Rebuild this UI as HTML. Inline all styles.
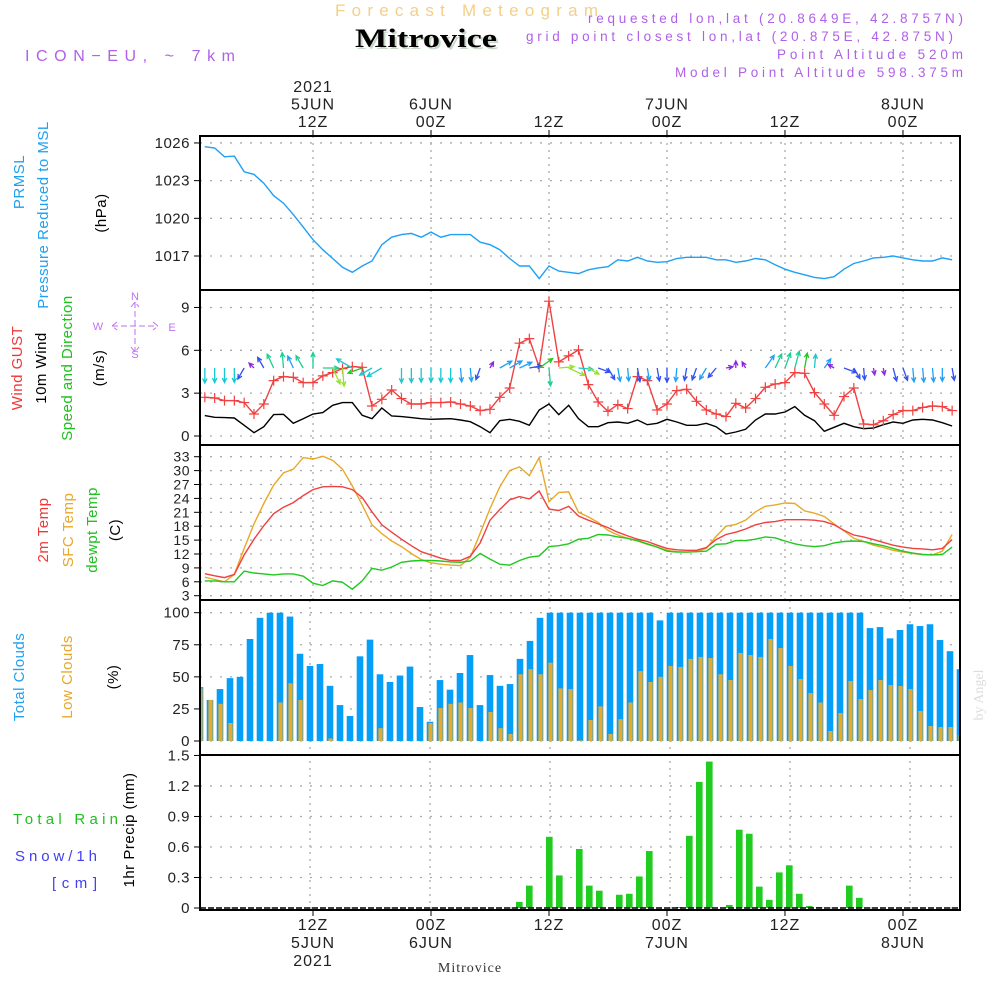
<!DOCTYPE html>
<html><head><meta charset="utf-8"><style>
html,body{margin:0;padding:0;background:#fff;}
svg{display:block;font-family:"Liberation Sans",sans-serif;}
</style></head><body>
<svg id="c" width="1000" height="1000" viewBox="0 0 1000 1000" xmlns="http://www.w3.org/2000/svg">
<defs>
<clipPath id="cp1"><rect x="201" y="137" width="758" height="152"/></clipPath>
<clipPath id="cp2"><rect x="201" y="291" width="758" height="153"/></clipPath>
<clipPath id="cp3"><rect x="201" y="446" width="758" height="153"/></clipPath>
<clipPath id="cp4"><rect x="201" y="601" width="758" height="153"/></clipPath>
<clipPath id="cp5"><rect x="201" y="756" width="758" height="153"/></clipPath>
</defs>
<text x="335" y="16" font-size="17" fill="#f3cf8a" textLength="263" lengthAdjust="spacing">Forecast Meteogram</text>
<text x="357" y="49" font-size="26" font-weight="bold" font-family="Liberation Serif, serif" fill="#c8d8c8" textLength="142" lengthAdjust="spacingAndGlyphs">Mitrovice</text>
<text x="355" y="47" font-size="26" font-weight="bold" font-family="Liberation Serif, serif" fill="#000" textLength="142" lengthAdjust="spacingAndGlyphs">Mitrovice</text>
<text x="25" y="61" font-size="16" fill="#b060e8" textLength="210" lengthAdjust="spacing">ICON−EU, ~ 7km</text>
<g font-size="13.5" fill="#b060e8">
<text x="588" y="23" textLength="375" lengthAdjust="spacing">requested lon,lat (20.8649E, 42.8757N)</text>
<text x="526" y="41" textLength="427" lengthAdjust="spacing">grid point closest lon,lat (20.875E, 42.875N)</text>
<text x="777" y="59" textLength="186" lengthAdjust="spacing">Point Altitude 520m</text>
<text x="675" y="77" textLength="288" lengthAdjust="spacing">Model Point Altitude 598.375m</text>
</g>
<g id="grid"></g>
<g id="marks"></g>
<g id="frames" fill="none" stroke="#000" stroke-width="2">
<rect x="200" y="136" width="760" height="774"/>
<line x1="200" y1="290" x2="960" y2="290"/>
<line x1="200" y1="445" x2="960" y2="445"/>
<line x1="200" y1="600" x2="960" y2="600"/>
<line x1="200" y1="755" x2="960" y2="755"/>
</g>
<g id="labels"></g>
<g font-size="15" text-anchor="middle" letter-spacing="0.5">
<text transform="translate(24,182) rotate(-90)" fill="#20a0f0">PRMSL</text>
<text transform="translate(48,215) rotate(-90)" fill="#20a0f0">Pressure Reduced to MSL</text>
<text transform="translate(106,213) rotate(-90)" fill="#000">(hPa)</text>
<text transform="translate(22,368) rotate(-90)" fill="#f03838">Wind GUST</text>
<text transform="translate(46,368) rotate(-90)" fill="#000">10m Wind</text>
<text transform="translate(72,368) rotate(-90)" fill="#20c020">Speed and Direction</text>
<text transform="translate(104,368) rotate(-90)" fill="#000">(m/s)</text>
<text transform="translate(48,530) rotate(-90)" fill="#f03838">2m Temp</text>
<text transform="translate(73,530) rotate(-90)" fill="#e8a828">SFC Temp</text>
<text transform="translate(97,530) rotate(-90)" fill="#20c020">dewpt Temp</text>
<text transform="translate(120,530) rotate(-90)" fill="#000">(C)</text>
<text transform="translate(24,677) rotate(-90)" fill="#20a0f0">Total Clouds</text>
<text transform="translate(72,677) rotate(-90)" fill="#e8a828">Low Clouds</text>
<text transform="translate(118,677) rotate(-90)" fill="#000">(%)</text>
<text transform="translate(134,830) rotate(-90)" fill="#000">1hr Precip (mm)</text>
</g>
<g font-size="15">
<text x="13" y="824" fill="#20c020" textLength="105" lengthAdjust="spacing">Total  Rain</text>
<text x="15" y="861" fill="#4040f0" textLength="82" lengthAdjust="spacing">Snow/1h</text>
<text x="52" y="888" fill="#4040f0" textLength="45" lengthAdjust="spacing">[cm]</text>
</g>
<g fill="#c070f0" stroke="#c070f0" font-size="11" text-anchor="middle">
<text x="135" y="300" stroke="none">N</text>
<text x="135" y="358" stroke="none">S</text>
<text x="98" y="330" stroke="none">W</text>
<text x="172" y="331" stroke="none">E</text>
<path d="M135 302 V352 M112 326 H158 M131 307 L135 302 L139 307 M131 347 L135 352 L139 347 M117 322 L112 326 L117 330 M153 322 L158 326 L153 330" fill="none" stroke-width="1" stroke-dasharray="6 3"/>
</g>
<text x="470" y="972" text-anchor="middle" font-size="14" font-family="Liberation Serif, serif" fill="#333" letter-spacing="1">Mitrovice</text>
<text transform="translate(983,695) rotate(-90)" text-anchor="middle" font-size="14" font-family="Liberation Serif, serif" fill="#ddd">by Angel</text>
</svg>
<script>
const hours = [];
for (let h = 1; h <= 77; h++) hours.push(h);
const pressure = [1025.7,1025.6,1024.9,1024.95,1023.7,1023.5,1022.8,1021.8,1021.2,1020.3,1019.3,1018.3,1017.5,1016.8,1016.1,1015.7,1016.2,1016.6,1017.9,1018.5,1018.7,1018.8,1018.5,1018.9,1018.5,1018.7,1018.7,1018.7,1018.1,1017.9,1017.5,1016.8,1016.2,1016.2,1015.2,1016.2,1015.8,1015.7,1015.6,1015.9,1016.05,1016.15,1016.7,1016.6,1016.9,1016.6,1016.5,1016.55,1016.8,1016.9,1016.9,1016.9,1016.7,1016.7,1016.5,1016.6,1016.8,1016.7,1016.3,1015.95,1015.7,1015.5,1015.3,1015.2,1015.35,1015.95,1016.4,1016.6,1016.85,1016.9,1017.0,1016.85,1016.7,1016.6,1016.6,1016.85,1016.7];
const wind10m = [1.43,1.31,1.29,1.26,0.75,0.23,0.65,1.5,1.52,0.89,1.21,1.54,1.64,2.15,2.34,2.34,1.45,1.21,1.96,1.4,1.36,1.29,1.21,1.17,1.19,1.21,1.12,1.0,0.65,0.23,1.07,1.17,1.03,0.75,1.82,2.24,1.5,2.15,1.21,0.65,0.65,0.93,0.98,0.89,1.12,0.79,0.89,1.17,0.98,0.75,0.75,0.89,0.65,0.14,0.28,0.47,1.12,1.54,1.54,1.68,2.06,1.45,1.07,0.33,0.61,0.89,0.65,0.51,0.56,0.79,0.98,0.89,1.12,1.17,1.12,0.93,0.7];
const windGust = [2.71,2.66,2.48,2.48,2.34,1.54,2.24,3.88,4.16,4.11,3.74,3.74,4.21,4.44,4.72,4.86,4.81,2.1,2.57,3.22,2.62,2.24,2.24,2.34,2.34,2.38,2.24,2.1,1.78,1.87,2.71,3.36,6.5,6.82,4.81,9.44,5.19,5.61,6.03,3.6,2.38,1.73,2.2,1.92,4.16,3.88,1.82,2.24,3.18,3.27,2.43,1.82,1.54,1.36,2.29,1.96,2.62,3.41,3.64,3.74,4.44,4.39,3.04,2.24,1.45,2.76,3.36,0.84,0.79,1.07,1.5,1.78,1.78,2.0,2.1,2.06,1.78];
const windDir = [180,180,180,180,210,315,330,335,355,335,330,0,90,155,175,300,250,240,240,null,180,180,180,180,180,180,175,175,200,30,60,60,65,80,55,175,85,115,95,120,110,150,170,175,170,170,170,180,185,190,200,210,220,80,0,330,null,35,25,20,15,10,5,35,300,110,150,175,170,170,165,160,175,175,175,180,170];
const windColor = ["c","c","c","c","d","p","d","t","t","b","t","t","t","l","l","c","g","c","c","c","c","c","c","c","c","c","b","b","d","p","b","b","b","d","g","t","l","l","c","l","d","d","b","b","d","b","d","d","b","d","d","b","d","p","p","p","p","b","t","t","t","g","c","b","p","d","d","d","p","p","d","d","b","b","b","b","d"];
const temp2m = [7.75,7.3,6.9,7.6,11.8,15.2,18.1,20.7,22.1,23.1,24.6,25.9,26.5,26.6,26.5,25.9,24.2,21.1,18.3,16.7,15.2,13.8,12.5,11.8,11.1,10.6,10.6,11.5,14.4,19.3,21.6,23.7,24.4,23.9,25.6,21.7,21.4,22.3,20.2,19.3,18.5,17.7,16.7,15.9,15.2,14.7,13.9,13.2,12.9,12.8,12.8,13.4,15.1,16.2,16.7,17.4,18.3,18.8,19.0,19.4,19.4,19.4,19.3,19.0,18.3,17.1,16.1,15.7,15.1,14.5,13.9,13.5,13.2,13.1,12.9,13.2,15.1];
const tempSfc = [7.0,6.5,6.0,7.6,13.2,18.5,22.9,26.9,29.5,30.3,32.8,32.5,33.1,32.2,30.3,26.7,22.6,18.3,16.4,14.8,13.6,12.1,10.8,10.1,9.8,9.6,9.5,11.3,16.5,21.8,26.5,30.0,30.8,28.9,32.8,23.3,25.3,25.4,21.0,20.0,18.8,17.1,16.1,15.4,14.8,14.1,13.5,12.8,12.5,12.4,12.5,13.2,15.8,18.0,18.4,19.3,21.1,22.3,22.6,23.0,22.9,21.3,20.8,20.1,18.5,17.0,15.4,14.7,13.9,13.4,12.8,12.4,12.1,11.9,11.8,12.6,16.2];
const dewpoint = [6.2,6.2,6.0,6.0,8.3,7.9,7.7,7.5,7.7,7.7,7.2,5.7,5.2,6.2,5.9,4.4,6.2,8.9,8.5,9.2,10.2,10.5,10.6,10.6,10.5,10.3,10.2,10.5,12.1,10.9,9.8,9.6,10.6,11.3,11.6,13.6,13.8,14.2,15.2,15.4,16.2,16.1,15.7,15.4,14.9,14.2,13.5,12.6,12.4,12.4,12.5,12.6,14.1,14.2,14.9,14.9,15.2,15.7,15.5,14.8,14.2,13.8,13.6,13.8,14.4,14.7,14.8,14.7,14.2,13.8,13.2,12.6,12.2,11.9,11.8,11.9,13.5];
const totalClouds = [42,32,40.5,49,50,79.5,96,100,100,97,68,58.5,60,43,28,19.5,66,79,52,46,51,58,26.5,15,47.5,40,53,67,28,51.4,43,44.4,64,78,96,100,100,100,100,100,100,100,100,100,100,100,94,100,100,100,100,100,100,100,100,100,100,100,100,100,100,100,100,100,100,100,100,88,88.8,80,86.5,91,89.6,91,78.7,70,56];
const lowClouds = [41,32,29,14,0,0,0,0,30,45,32,0,0,2,0,0,0,0,10,0,0,0,0,14,25.7,29,30,25.7,0,22.6,10,5.5,52,56,52,61,41,40.5,0.5,16.4,27,5.5,17,30,54.5,46,50,58.5,57.7,64,65.5,64.7,52,47.5,68.6,67,65.5,79.5,72.5,58.5,48.3,37.4,30,7.8,21.8,46.8,32.7,39.7,47.5,43.6,42.9,40.5,23.4,11.7,10.9,10.9,4.7];
const precipHours = [33,34,36,37,39,40,41,43,44,45,46,49,50,51,52,54,55,56,57,58,59,60,61,62,63,66,67];
const precip = [0.06,0.22,0.70,0.32,0.58,0.22,0.17,0.13,0.14,0.31,0.56,0.01,0.71,1.24,1.44,0.03,0.77,0.73,0.21,0.08,0.35,0.42,0.14,0.02,0.01,0.22,0.10];
const pTicks = [1026,1023,1020,1017];
const wTicks = [9,6,3,0];
const tTicks = [33,30,27,24,21,18,15,12,9,6,3];
const cTicks = [100,75,50,25,0];
const rTicks = ["1.5","1.2","0.9","0.6","0.3","0"];
const timeTickHours = [12,24,36,48,60,72];
const topLabels = [["2021","5JUN","12Z"],["","6JUN","00Z"],["","","12Z"],["","7JUN","00Z"],["","","12Z"],["","8JUN","00Z"]];
const botLabels = [["12Z","5JUN","2021"],["00Z","6JUN",""],["12Z","",""],["00Z","7JUN",""],["12Z","",""],["00Z","8JUN",""]];

const X = h => 195 + 9.833 * h;
const XB = h => 190 + 10 * h;
const yP = p => 256 - (p - 1017) * 12.56;
const yW = v => 436 - v * 14.28;
const yT = t => 595.7 - (t - 3) * 4.633;
const yC = c => 741 - c * 1.283;
const yR = r => 908 - r * 101.7;

const NS = "http://www.w3.org/2000/svg";
function mk(tag, attrs, parent) {
  const e = document.createElementNS(NS, tag);
  for (const k in attrs) e.setAttribute(k, attrs[k]);
  parent.appendChild(e);
  return e;
}
const grid = document.getElementById("grid");
const marks = document.getElementById("marks");
const labels = document.getElementById("labels");

function hgrid(y) {
  const l = mk("line", {x1: 200, x2: 960, y1: y, y2: y, stroke: "#aaa", "stroke-width": 1.3, "stroke-dasharray": "2 8"}, grid);
  
  
}
pTicks.forEach(v => hgrid(yP(v)));
wTicks.forEach(v => hgrid(yW(v)));
tTicks.forEach(v => hgrid(yT(v)));
cTicks.forEach(v => hgrid(yC(v)));
rTicks.forEach(v => hgrid(yR(+v)));
timeTickHours.forEach(h => {
  const a = mk("line", {x1: X(h), x2: X(h), y1: 136, y2: 600, stroke: "#aaa", "stroke-width": 1.3, "stroke-dasharray": "2 5"}, grid);
  
  
  const b = mk("line", {x1: XB(h), x2: XB(h), y1: 600, y2: 910, stroke: "#aaa", "stroke-width": 1.3, "stroke-dasharray": "2 5"}, grid);
  
  
});

function ytick(txt, y, fs) {
  const t = mk("text", {x: 190, y: y + 5, "text-anchor": "end", "font-size": fs, fill: "#222", "letter-spacing": 0.5}, labels);
  t.textContent = txt;
  
  
  const m = mk("line", {x1: 194, x2: 200, y1: y, y2: y, stroke: "#000", "stroke-width": 1}, labels);
  
  
}
pTicks.forEach(v => ytick(String(v), yP(v), 15));
wTicks.forEach(v => ytick(String(v), yW(v), 15));
tTicks.forEach(v => ytick(String(v), yT(v), 14));
cTicks.forEach(v => ytick(String(v), yC(v), 15));
rTicks.forEach(v => ytick(v, yR(+v), 15));

timeTickHours.forEach((h, i) => {
  const tk = mk("line", {x1: X(h), x2: X(h), y1: 130, y2: 136, stroke: "#000"}, labels);
  
  
  const tkb = mk("line", {x1: X(h), x2: X(h), y1: 910, y2: 916, stroke: "#000"}, labels);
  
  
  topLabels[i].forEach((s, j) => {
    if (!s) return;
    const t = mk("text", {x: X(h), y: 92 + j * 17.5, "text-anchor": "middle", "font-size": 16, fill: "#222", "letter-spacing": 1}, labels);
    t.textContent = s;
    
    
  });
  botLabels[i].forEach((s, j) => {
    if (!s) return;
    const t = mk("text", {x: X(h), y: 930 + j * 18, "text-anchor": "middle", "font-size": 16, fill: "#222", "letter-spacing": 1}, labels);
    t.textContent = s;
    
    
  });
});

function line(vals, ys, color, clip, name) {
  const d = vals.map((v, i) => (i ? "L" : "M") + X(hours[i]).toFixed(1) + " " + ys(v).toFixed(1)).join(" ");
  const p = mk("path", {d: d, fill: "none", stroke: color, "stroke-width": 1.4, "clip-path": "url(#" + clip + ")"}, marks);
  
  
}
line(pressure, yP, "#1ea0f5", "cp1", "pressure-line");
line(wind10m, yW, "#000", "cp2", "wind-10m-line");
line(windGust, yW, "#f04040", "cp2", "wind-gust-line");
windGust.forEach((v, i) => {
  const x = X(hours[i]), y = yW(v);
  const c = mk("path", {d: `M${x-5} ${y} H${x+5} M${x} ${y-5} V${y+5}`, stroke: "#f04040", "stroke-width": 1.2, "clip-path": "url(#cp2)"}, marks);
  
  
});
const colMap = {c: "#18c8d0", b: "#1ea0f5", d: "#3050f0", p: "#8a28e0", t: "#18d090", g: "#20c820", l: "#98e030"};
windDir.forEach((dir, i) => {
  if (dir === null) return;
  const x0 = X(hours[i]), y0 = 368;
  const len = windColor[i] === "p" ? 7 : 10 + 3.5 * wind10m[i];
  const r = dir * Math.PI / 180;
  const dx = Math.sin(r), dy = -Math.cos(r);
  const x1 = x0 + dx * len, y1 = y0 + dy * len;
  const hl = 5, a = 0.45;
  const bx = -dx, by = -dy;
  const hx1 = x1 + hl * (bx * Math.cos(a) - by * Math.sin(a)), hy1 = y1 + hl * (bx * Math.sin(a) + by * Math.cos(a));
  const hx2 = x1 + hl * (bx * Math.cos(-a) - by * Math.sin(-a)), hy2 = y1 + hl * (bx * Math.sin(-a) + by * Math.cos(-a));
  const p = mk("path", {d: `M${x0} ${y0} L${x1} ${y1} M${hx1} ${hy1} L${x1} ${y1} L${hx2} ${hy2}`, fill: "none", stroke: colMap[windColor[i]], "stroke-width": 1.3, "clip-path": "url(#cp2)"}, marks);
  
  
});
line(tempSfc, yT, "#e8a828", "cp3", "sfc-temp-line");
line(temp2m, yT, "#f04040", "cp3", "temp-2m-line");
line(dewpoint, yT, "#20c820", "cp3", "dewpoint-line");

totalClouds.forEach((v, i) => {
  const xc = XB(hours[i]);
  const b = mk("rect", {x: xc - 3.3, y: yC(v), width: 6.6, height: 741 - yC(v), fill: "#059ff8", "clip-path": "url(#cp4)"}, marks);
  
  
});
lowClouds.forEach((v, i) => {
  const xc = XB(hours[i]);
  if (v <= 0) return;
  const b = mk("rect", {x: xc - 1.6, y: yC(v), width: 4.2, height: 741 - yC(v), fill: "#e8aa2c", "clip-path": "url(#cp4)"}, marks);
  
  
});
precip.forEach((v, i) => {
  const xc = XB(precipHours[i]) - 0.7;
  const b = mk("rect", {x: xc - 3.3, y: yR(v), width: 6.6, height: 908 - yR(v), fill: "#20cc20", "clip-path": "url(#cp5)"}, marks);
  
  
});
const zl = mk("line", {x1: 200, x2: 960, y1: 908, y2: 908, stroke: "#000", "stroke-width": 1.5, "stroke-dasharray": "6 2"}, marks);


</script>
</body></html>
